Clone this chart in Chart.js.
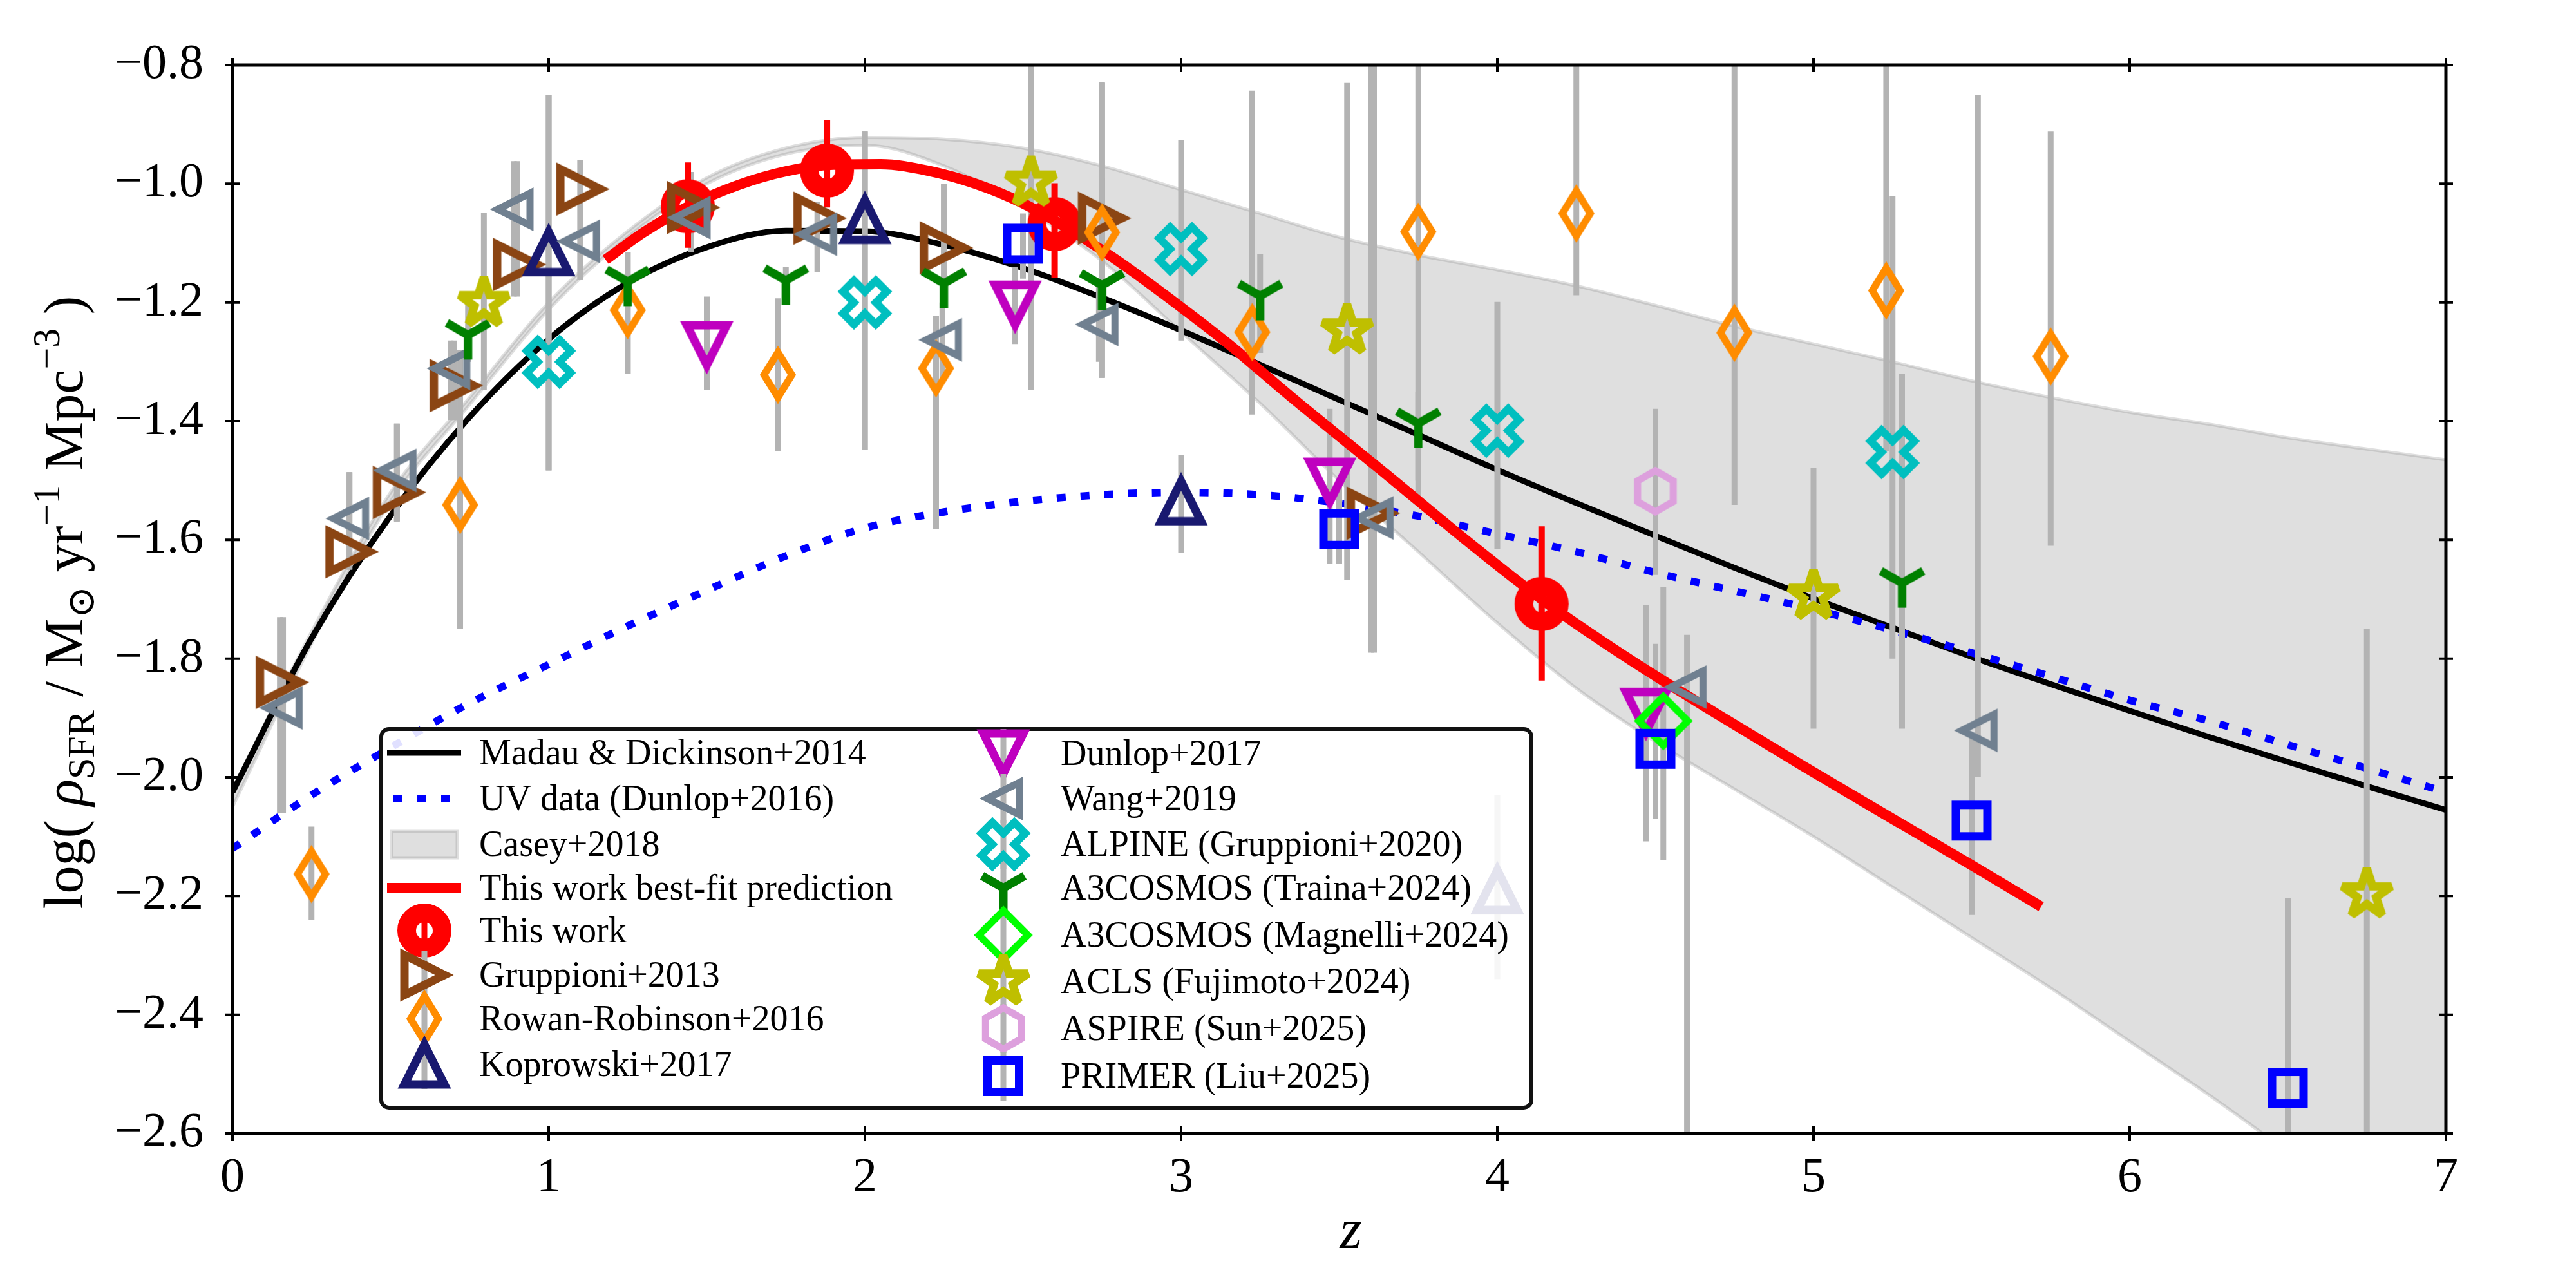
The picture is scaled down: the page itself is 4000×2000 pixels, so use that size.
<!DOCTYPE html>
<html lang="en">
<head>
<meta charset="UTF-8">
<title>Cosmic star formation rate density</title>
<script src="https://cdn.jsdelivr.net/npm/chart.js"></script>
<style>
  body { margin: 0; background: #fff; }
  #wrap { width: 4000px; height: 2000px; }
</style>
</head>
<body>
<div id="wrap"><canvas id="sfrd" width="4000" height="2000"></canvas></div>
<script>
// ---- axis ticks ----
const zTicks = [0, 1, 2, 3, 4, 5, 6, 7];
const logTicks = [-2.6, -2.4, -2.2, -2.0, -1.8, -1.6, -1.4, -1.2, -1.0, -0.8];

// ---- model curves ----
const zGrid = [0, 0.25, 0.5, 0.75, 1, 1.25, 1.5, 1.75, 2, 2.25, 2.5, 2.75, 3, 3.25, 3.5,
               3.75, 4, 4.25, 4.5, 4.75, 5, 5.25, 5.5, 5.75, 6, 6.25, 6.5, 6.75, 7];
const mdLog = [-2.025, -1.766, -1.559, -1.393, -1.262, -1.167, -1.107, -1.079, -1.080, -1.103,
               -1.142, -1.192, -1.247, -1.305, -1.364, -1.423, -1.482, -1.538, -1.593, -1.647,
               -1.699, -1.748, -1.797, -1.843, -1.888, -1.932, -1.974, -2.015, -2.055];
const uvLog = [-2.12, -2.03, -1.95, -1.875, -1.81, -1.745, -1.685, -1.627, -1.58, -1.553,
               -1.535, -1.524, -1.52, -1.524, -1.538, -1.56, -1.59, -1.62, -1.655, -1.686,
               -1.717, -1.752, -1.79, -1.83, -1.87, -1.905, -1.945, -1.985, -2.025];
const caseyHi = [-2.02, -1.755, -1.52, -1.36, -1.20, -1.08, -0.99, -0.94, -0.922, -0.925,
                 -0.94, -0.97, -1.01, -1.05, -1.09, -1.12, -1.145, -1.172, -1.205, -1.24,
                 -1.27, -1.30, -1.332, -1.36, -1.385, -1.405, -1.428, -1.447, -1.465];
const caseyLo = [-2.05, -1.775, -1.535, -1.372, -1.212, -1.09, -1.0, -0.95, -0.935, -0.97,
                 -1.04, -1.13, -1.25, -1.37, -1.50, -1.62, -1.74, -1.85, -1.94, -2.02,
                 -2.10, -2.185, -2.27, -2.355, -2.445, -2.535, -2.63, -2.72, -2.81];
const fitZ   = [1.18, 1.3, 1.45, 1.6, 1.75, 1.9, 2.05, 2.2, 2.35, 2.5, 2.65, 2.8, 3.0, 3.15,
                3.35, 3.65, 3.9, 4.14, 4.4, 4.7, 4.97, 5.25, 5.5, 5.72];
const fitLog = [-1.128, -1.082, -1.036, -1.002, -0.979, -0.968, -0.967, -0.978, -1.0, -1.033,
                -1.078, -1.13, -1.208, -1.27, -1.36, -1.49, -1.60, -1.70, -1.795, -1.895,
                -1.982, -2.07, -2.148, -2.218];

// ---- measurements: z, log value, upper and lower end of the error bar ----
const twZ = [1.44, 1.88, 2.60, 4.14];
const twLog = [-1.038, -0.978, -1.068, -1.708];
const twUp = [-0.964, -0.893, -0.999, -1.577];
const twLow = [-1.108, -1.040, -1.158, -1.837];

const gruZ = [0.15, 0.37, 0.52, 0.70, 0.90, 1.10, 1.45, 1.85, 2.25, 2.75, 3.60];
const gruLog = [-1.84, -1.62, -1.52, -1.34, -1.136, -1.009, -1.04, -1.058, -1.108, -1.058, -1.555];
const gruUp = [-1.73, -1.486, -1.404, -1.264, -0.962, -0.96, -0.98, -1.03, -1.0, -0.83, -0.80];
const gruLow = [-2.06, -1.65, -1.569, -1.398, -1.19, -1.162, -1.10, -1.149, -1.202, -1.327, -1.79];

const rrZ = [0.25, 0.72, 1.25, 1.725, 2.225, 2.75, 3.225, 3.75, 4.25, 4.75, 5.23, 5.75];
const rrLog = [-2.163, -1.541, -1.213, -1.322, -1.311, -1.082, -1.25, -1.081, -1.05, -1.251, -1.18, -1.291];
const rrUp = [-2.083, -1.28, -1.115, -1.193, -1.222, -0.829, -0.843, -0.78, -0.78, -0.78, -0.78, -0.912];
const rrLow = [-2.24, -1.75, -1.32, -1.451, -1.582, -1.327, -1.389, -1.541, -1.188, -1.541, -1.45, -1.61];

const kopZ = [1.0, 2.0, 3.0, 4.0];
const kopLog = [-1.115, -1.061, -1.535, -2.19];
const kopUp = [-0.85, -0.912, -1.457, -2.03];
const kopLow = [-1.483, -1.448, -1.622, -2.34];

const dunZ = [1.5, 2.475, 3.47, 4.47];
const dunLog = [-1.272, -1.204, -1.502, -1.89];
const dunUp = [-1.19, -1.14, -1.379, -1.71];
const dunLow = [-1.348, -1.27, -1.641, -2.108];

const wangZ = [0.16, 0.37, 0.52, 0.69, 0.89, 1.10, 1.45, 1.85, 2.245, 2.74, 3.61, 4.60, 5.52];
const wangLog = [-1.883, -1.564, -1.483, -1.311, -1.043, -1.097, -1.057, -1.085, -1.263, -1.237, -1.563, -1.848, -1.921];
const wangUp = [-1.73, -1.486, -1.404, -1.264, -0.962, -0.96, -1.0, -1.03, -1.20, -1.16, -0.80, -1.76, -0.85];
const wangLow = [-2.06, -1.65, -1.569, -1.398, -1.19, -1.162, -1.115, -1.149, -1.33, -1.30, -1.79, -2.65, -2.0];

const alpZ = [1.0, 2.0, 3.0, 4.0, 5.25];
const alpLog = [-1.30, -1.20, -1.11, -1.416, -1.452];
const alpUp = [-0.85, -0.912, -0.926, -1.199, -1.021];
const alpLow = [-1.483, -1.448, -1.264, -1.616, -1.80];

const traZ = [0.745, 1.25, 1.75, 2.25, 2.75, 3.25, 3.75, 5.28];
const traLog = [-1.255, -1.165, -1.163, -1.168, -1.171, -1.189, -1.404, -1.673];
const traUp = [-1.2, -1.115, -1.14, -1.0, -0.99, -1.119, -1.35, -1.32];
const traLow = [-1.3, -1.32, -1.2, -1.202, -1.25, -1.285, -1.5, -1.918];

const magZ = [4.525];
const magLog = [-1.905];
const magUp = [-1.68];
const magLow = [-2.139];

const aclZ = [0.795, 2.525, 3.525, 5.0, 6.75];
const aclLog = [-1.201, -0.998, -1.247, -1.694, -2.197];
const aclUp = [-1.049, -0.78, -0.83, -1.479, -1.75];
const aclLow = [-1.348, -1.348, -1.668, -1.918, -2.7];

const aspZ = [4.5];
const aspLog = [-1.518];
const aspUp = [-1.379];
const aspLow = [-1.659];

const priZ = [2.5, 3.5, 4.5, 5.5, 6.5];
const priLog = [-1.101, -1.582, -1.952, -2.073, -2.523];
const priUp = [-1.05, -1.5, -1.775, -1.93, -2.204];
const priLow = [-1.16, -1.64, -2.07, -2.232, -2.7];

const SERIF = '"Liberation Serif", "DejaVu Serif", serif';
const GREY_BAR = '#b3b3b3';
const BAND = 'rgba(128,128,128,0.25)';

// hollow marker sprites, used as Chart.js point styles
function shapePath(g, shape, s) {
  const poly = pts => {
    g.moveTo(pts[0][0], pts[0][1]);
    for (let i = 1; i < pts.length; i++) g.lineTo(pts[i][0], pts[i][1]);
    g.closePath();
  };
  g.beginPath();
  switch (shape) {
    case 'circle': g.arc(0, 0, s, 0, Math.PI * 2); break;
    case 'triUp': poly([[0, -s], [s, s], [-s, s]]); break;
    case 'triDown': poly([[0, s], [s, -s], [-s, -s]]); break;
    case 'triRight': poly([[s, 0], [-s, s], [-s, -s]]); break;
    case 'triLeft': poly([[-s, 0], [s, -s], [s, s]]); break;
    case 'diamond': poly([[0, -s], [s, 0], [0, s], [-s, 0]]); break;
    case 'thinDiamond': poly([[0, -s], [0.62 * s, 0], [0, s], [-0.62 * s, 0]]); break;
    case 'square': poly([[-s, -s], [s, -s], [s, s], [-s, s]]); break;
    case 'hexagon': {
      const p = [];
      for (let k = 0; k < 6; k++) { const a = -Math.PI / 2 + k * Math.PI / 3; p.push([s * Math.cos(a), s * Math.sin(a)]); }
      poly(p); break;
    }
    case 'star': {
      const p = [];
      for (let k = 0; k < 10; k++) {
        const a = -Math.PI / 2 + k * Math.PI / 5, r = k % 2 ? s * 0.382 : s;
        p.push([r * Math.cos(a), r * Math.sin(a)]);
      }
      poly(p); break;
    }
    case 'xFilled':
      poly([[-1, -2], [0, -1], [1, -2], [2, -1], [1, 0], [2, 1], [1, 2], [0, 1], [-1, 2], [-2, 1], [-1, 0], [-2, -1]]
        .map(([a, b]) => [a * s, b * s]));
      break;
    case 'triY':
      g.moveTo(-0.866 * s, -0.5 * s); g.lineTo(0, 0); g.lineTo(0.866 * s, -0.5 * s);
      g.moveTo(0, 0); g.lineTo(0, s);
      break;
  }
}

function makeMarker(shape, color, s, lw, miter) {
  const ext = s * (shape === 'xFilled' ? 2 : 1) + lw * 3;
  const dim = 2 * Math.ceil(ext);
  const c = document.createElement('canvas');
  c.width = dim; c.height = dim;
  const g = c.getContext('2d');
  g.translate(dim / 2, dim / 2);
  shapePath(g, shape, s);
  g.strokeStyle = color;
  g.lineWidth = lw;
  g.lineJoin = 'miter';
  g.miterLimit = miter || 10;
  g.lineCap = 'butt';
  g.stroke();
  return c;
}

const mk = {
  tw:  makeMarker('circle', '#ff0000', 27.5, 29),
  gru: makeMarker('triRight', '#8b4513', 31, 13),
  rr:  makeMarker('thinDiamond', '#ff8c00', 35, 11),
  kop: makeMarker('triUp', '#191970', 31, 13),
  dun: makeMarker('triDown', '#bf00bf', 31, 13),
  wang: makeMarker('triLeft', '#708090', 25, 11),
  alp: makeMarker('xFilled', '#00bfbf', 17, 12),
  tra: makeMarker('triY', '#008000', 38, 13),
  mag: makeMarker('diamond', '#00ff00', 38, 11),
  acl: makeMarker('star', '#bfbf00', 40, 13, 1.5),
  asp: makeMarker('hexagon', '#dda0dd', 32, 11),
  pri: makeMarker('square', '#0000ff', 24.5, 13)
};

const pts = (xs, ys) => xs.map((x, i) => ({ x: x, y: ys[i] }));
const bars = (xs, lo, hi) => xs.flatMap((x, i) => [{ x: x, y: lo[i] }, { x: x, y: hi[i] }, { x: x, y: null }]);

function curve(label, xs, ys, color, width, order, extra) {
  return Object.assign({
    type: 'line', label: label, data: pts(xs, ys), borderColor: color, borderWidth: width,
    pointRadius: 0, cubicInterpolationMode: 'monotone', fill: false, order: order, clip: 0,
    borderCapStyle: 'butt'
  }, extra || {});
}
function errbar(xs, lo, hi, color, width, order) {
  return {
    type: 'line', data: bars(xs, lo, hi), borderColor: color, borderWidth: width, pointRadius: 0,
    spanGaps: false, fill: false, order: order, clip: 0, borderCapStyle: 'butt'
  };
}
function marks(label, xs, ys, sprite, order) {
  return {
    type: 'scatter', label: label, data: pts(xs, ys), pointStyle: sprite, pointRadius: 10,
    showLine: false, order: order
  };
}

const series = [
  ['Gruppioni+2013', gruZ, gruLog, gruUp, gruLow, mk.gru],
  ['Rowan-Robinson+2016', rrZ, rrLog, rrUp, rrLow, mk.rr],
  ['Koprowski+2017', kopZ, kopLog, kopUp, kopLow, mk.kop],
  ['Dunlop+2017', dunZ, dunLog, dunUp, dunLow, mk.dun],
  ['Wang+2019', wangZ, wangLog, wangUp, wangLow, mk.wang],
  ['ALPINE (Gruppioni+2020)', alpZ, alpLog, alpUp, alpLow, mk.alp],
  ['A3COSMOS (Traina+2024)', traZ, traLog, traUp, traLow, mk.tra],
  ['A3COSMOS (Magnelli+2024)', magZ, magLog, magUp, magLow, mk.mag],
  ['ACLS (Fujimoto+2024)', aclZ, aclLog, aclUp, aclLow, mk.acl],
  ['ASPIRE (Sun+2025)', aspZ, aspLog, aspUp, aspLow, mk.asp],
  ['PRIMER (Liu+2025)', priZ, priLog, priUp, priLow, mk.pri]
];

const datasets = [
  curve('Casey+2018 upper', zGrid, caseyHi, BAND, 5, 50, { fill: '+1', backgroundColor: BAND }),
  curve('Casey+2018 lower', zGrid, caseyLo, BAND, 5, 51),
  curve('Madau & Dickinson+2014', zGrid, mdLog, '#000000', 9, 45),
  curve('UV data (Dunlop+2016)', zGrid, uvLog, '#0000ff', 11.5, 44, { borderDash: [14, 23] }),
  curve('This work best-fit prediction', fitZ, fitLog, '#ff0000', 16, 35),
  errbar(twZ, twLow, twUp, '#ff0000', 10, 34),
  marks('This work', twZ, twLog, mk.tw, 33)
];
series.forEach((s, k) => {
  datasets.push(errbar(s[1], s[4], s[3], GREY_BAR, 9, 40));
  datasets.push(marks(s[0], s[1], s[2], s[5], 30 - k));
});

const fmt = v => (v < 0 ? '\u2212' : '') + Math.abs(v).toFixed(1);

// frame with in-out ticks on all four sides
const framePlugin = {
  id: 'frame',
  afterDatasetsDraw(chart) {
    const { ctx, chartArea: a, scales: { x, y } } = chart;
    ctx.save();
    ctx.strokeStyle = '#000';
    ctx.lineWidth = 4;
    ctx.beginPath();
    zTicks.forEach(v => {
      const p = x.getPixelForValue(v);
      ctx.moveTo(p, a.bottom - 11); ctx.lineTo(p, a.bottom + 11);
      ctx.moveTo(p, a.top - 11); ctx.lineTo(p, a.top + 11);
    });
    logTicks.forEach(v => {
      const p = y.getPixelForValue(v);
      ctx.moveTo(a.left - 11, p); ctx.lineTo(a.left + 11, p);
      ctx.moveTo(a.right - 11, p); ctx.lineTo(a.right + 11, p);
    });
    ctx.stroke();
    ctx.lineWidth = 5;
    ctx.strokeRect(a.left, a.top, a.right - a.left, a.bottom - a.top);
    ctx.restore();
  }
};

// axis titles (the y title has sub- and superscripts)
const titlePlugin = {
  id: 'titles',
  afterDraw(chart) {
    const { ctx, chartArea: a } = chart;
    const big = '86px ' + SERIF, small = '60px ' + SERIF;
    const parts = [
      { t: 'log( ', f: big, dy: 0 },
      { t: '\u03c1', f: 'italic ' + big, dy: 0 },
      { t: 'SFR', f: small, dy: 18 },
      { t: ' / M', f: big, dy: 0 },
      { t: '\u2299', f: small, dy: 18 },
      { t: ' yr', f: big, dy: 0 },
      { t: '\u22121', f: small, dy: -36 },
      { t: ' Mpc', f: big, dy: 0 },
      { t: '\u22123', f: small, dy: -36 },
      { t: ' )', f: big, dy: 0 }
    ];
    ctx.save();
    ctx.fillStyle = '#000';
    ctx.textBaseline = 'alphabetic';
    let total = 0;
    parts.forEach(p => { ctx.font = p.f; p.w = ctx.measureText(p.t).width; total += p.w; });
    ctx.translate(128, (a.top + a.bottom) / 2 + 5);
    ctx.rotate(-Math.PI / 2);
    let cx = -total / 2;
    parts.forEach(p => { ctx.font = p.f; ctx.fillText(p.t, cx, p.dy); cx += p.w; });
    ctx.restore();

    ctx.save();
    ctx.fillStyle = '#000';
    ctx.font = 'italic 88px ' + SERIF;
    ctx.textAlign = 'center';
    ctx.textBaseline = 'alphabetic';
    ctx.fillText('z', (a.left + a.right) / 2 + 18, 1938);
    ctx.restore();
  }
};

// two-column legend box inside the axes
const legendCol1 = [
  { kind: 'line', color: '#000000', lw: 9, label: 'Madau & Dickinson+2014' },
  { kind: 'line', color: '#0000ff', lw: 11.5, dash: [14, 23], label: 'UV data (Dunlop+2016)' },
  { kind: 'patch', label: 'Casey+2018' },
  { kind: 'line', color: '#ff0000', lw: 16, label: 'This work best-fit prediction' },
  { kind: 'marker', sprite: mk.tw, bar: '#ff0000', label: 'This work' },
  { kind: 'marker', sprite: mk.gru, bar: GREY_BAR, label: 'Gruppioni+2013' },
  { kind: 'marker', sprite: mk.rr, bar: GREY_BAR, label: 'Rowan-Robinson+2016' },
  { kind: 'marker', sprite: mk.kop, bar: GREY_BAR, label: 'Koprowski+2017' }
];
const legendCol2 = series.slice(3).map(s => ({ kind: 'marker', sprite: s[5], bar: GREY_BAR, label: s[0] }));
const rows1 = [1169, 1240, 1311, 1379, 1445, 1514, 1582, 1653];
const rows2 = [1170, 1240, 1311, 1379, 1452, 1524, 1597, 1671];

const legendPlugin = {
  id: 'boxLegend',
  afterDraw(chart) {
    const ctx = chart.ctx;
    const L = 592, T = 1132, W = 1786, H = 588, R = 12;
    ctx.save();
    ctx.beginPath();
    ctx.moveTo(L + R, T);
    ctx.arcTo(L + W, T, L + W, T + H, R);
    ctx.arcTo(L + W, T + H, L, T + H, R);
    ctx.arcTo(L, T + H, L, T, R);
    ctx.arcTo(L, T, L + W, T, R);
    ctx.closePath();
    ctx.fillStyle = 'rgba(255,255,255,0.88)';
    ctx.fill();
    ctx.lineWidth = 6;
    ctx.strokeStyle = '#111';
    ctx.stroke();

    const drawItem = (it, hx, tx, yc) => {
      if (it.kind === 'line') {
        ctx.save();
        ctx.beginPath();
        ctx.strokeStyle = it.color;
        ctx.lineWidth = it.lw;
        ctx.lineCap = 'butt';
        if (it.dash) { ctx.setLineDash(it.dash); ctx.moveTo(hx - 48, yc); ctx.lineTo(hx + 40, yc); }
        else { ctx.moveTo(hx - 58, yc); ctx.lineTo(hx + 57, yc); }
        ctx.stroke();
        ctx.restore();
      } else if (it.kind === 'patch') {
        ctx.fillStyle = BAND;
        ctx.fillRect(hx - 51, yc - 20, 102, 41);
        ctx.strokeStyle = BAND;
        ctx.lineWidth = 5;
        ctx.strokeRect(hx - 51, yc - 20, 102, 41);
      } else {
        ctx.beginPath();
        ctx.strokeStyle = it.bar;
        ctx.lineWidth = 9;
        ctx.moveTo(hx, yc - 38); ctx.lineTo(hx, yc + 38);
        ctx.stroke();
        ctx.drawImage(it.sprite, hx - it.sprite.width / 2, yc - it.sprite.height / 2);
      }
      ctx.fillStyle = '#000';
      ctx.font = '56px ' + SERIF;
      ctx.textAlign = 'left';
      ctx.textBaseline = 'alphabetic';
      ctx.fillText(it.label, tx, yc + 18);
    };
    legendCol1.forEach((it, i) => drawItem(it, 659, 744, rows1[i]));
    legendCol2.forEach((it, i) => drawItem(it, 1558, 1647, rows2[i]));
    ctx.restore();
  }
};

new Chart(document.getElementById('sfrd'), {
  type: 'scatter',
  data: { datasets: datasets },
  options: {
    responsive: false,
    animation: false,
    devicePixelRatio: 1,
    events: [],
    layout: { padding: { top: 101, right: 202, bottom: 0, left: 0 } },
    plugins: { legend: { display: false }, tooltip: { enabled: false } },
    scales: {
      x: {
        type: 'linear', min: 0, max: 7,
        grid: { display: false, drawTicks: false },
        border: { display: false },
        afterBuildTicks: s => { s.ticks = zTicks.map(v => ({ value: v })); },
        afterFit: s => { s.height = 240; },
        ticks: { color: '#000', padding: 24, maxRotation: 0, autoSkip: false,
                 font: { family: SERIF, size: 76 }, callback: v => String(v) }
      },
      y: {
        type: 'linear', min: -2.6, max: -0.8,
        grid: { display: false, drawTicks: false },
        border: { display: false },
        afterBuildTicks: s => { s.ticks = logTicks.map(v => ({ value: v })); },
        afterFit: s => { s.width = 361; },
        ticks: { color: '#000', padding: 45, autoSkip: false,
                 font: { family: SERIF, size: 76 }, callback: v => fmt(v) }
      }
    }
  },
  plugins: [framePlugin, titlePlugin, legendPlugin]
});
</script>
</body>
</html>
